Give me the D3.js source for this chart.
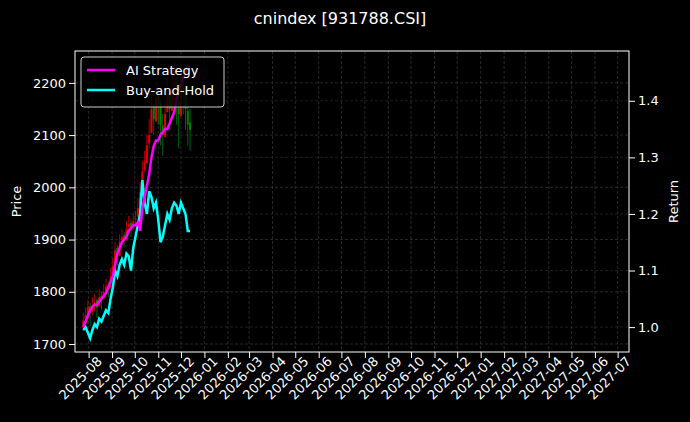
<!DOCTYPE html>
<html><head><meta charset="utf-8">
<script src="https://cdn.jsdelivr.net/npm/d3@7"></script>
<style>body{margin:0;background:#000}text{font-family:"DejaVu Sans";fill:#fff}</style>
</head><body><svg id="chart"></svg>
<script>
// values, one point every 3 calendar days
var closes = [1745,1755,1770,1760,1775,1780,1770,1790,1785,1800,1810,1805,1830,1850,1880,1870,1895,1905,1900,1920,1930,1925,1935,1940,1960,1990,2030,2050,2080,2100,2150,2130,2170,2160,2120,2100,2140,2180,2150,2190,2200,2170,2140,2200,2180,2150,2120,2110];
var opens  = [1735,1748,1758,1772,1762,1778,1784,1772,1792,1788,1802,1812,1808,1832,1852,1884,1868,1898,1908,1898,1924,1932,1922,1938,1944,1964,1994,2034,2046,2084,2104,2154,2126,2174,2164,2118,2096,2144,2184,2146,2194,2204,2166,2136,2204,2176,2146,2124];
var highs  = [1760,1770,1785,1778,1790,1795,1788,1805,1800,1815,1825,1820,1845,1865,1895,1890,1910,1920,1915,1935,1945,1940,1950,1955,1980,2010,2050,2070,2100,2130,2180,2160,2200,2190,2170,2140,2170,2210,2190,2220,2240,2210,2180,2230,2210,2190,2160,2150];
var lows   = [1725,1738,1748,1735,1755,1762,1750,1770,1765,1785,1795,1790,1812,1835,1862,1850,1878,1890,1885,1905,1912,1905,1918,1925,1940,1970,2010,2030,2055,2075,2120,2100,2140,2120,2080,2060,2110,2150,2110,2150,2160,2120,2075,2160,2140,2110,2080,2070];
var strategy = [1.00,1.01,1.02,1.03,1.035,1.04,1.04,1.045,1.05,1.055,1.06,1.07,1.08,1.09,1.11,1.13,1.14,1.15,1.155,1.16,1.17,1.175,1.18,1.18,1.185,1.17,1.21,1.23,1.25,1.27,1.30,1.32,1.33,1.33,1.34,1.345,1.35,1.35,1.36,1.37,1.38,1.40,1.42,1.43,1.44,1.45,1.46,1.46];
var buyhold  = [0.995,1.0,0.99,0.98,0.995,1.005,1.0,1.015,1.01,1.02,1.03,1.025,1.05,1.07,1.10,1.09,1.11,1.12,1.11,1.13,1.125,1.10,1.14,1.16,1.18,1.20,1.26,1.22,1.20,1.24,1.23,1.21,1.22,1.19,1.15,1.16,1.18,1.20,1.19,1.21,1.22,1.215,1.20,1.22,1.21,1.20,1.17,1.17];
var priceTicks = [1700,1800,1900,2000,2100,2200];
var returnTicks = [1.0,1.1,1.2,1.3,1.4];
var title = "cnindex [931788.CSI]";

var W = 690, H = 422;
var margin = {top: 51, right: 61, bottom: 70, left: 75},
    width = W - margin.left - margin.right,
    height = H - margin.top - margin.bottom;

var dates = closes.map(function(d, i){ return d3.timeDay.offset(new Date(2025, 6, 25), i * 3); });

var x = d3.scaleTime().domain([new Date(2025, 6, 14), new Date(2027, 6, 16)]).range([0, width]);
var y = d3.scaleLinear().domain([1684.7, 2261]).range([height, 0]);
var y2 = d3.scaleLinear().domain([0.956, 1.488]).range([height, 0]);

var svg = d3.select("#chart").attr("width", W).attr("height", H);
svg.append("rect").attr("width", W).attr("height", H).attr("fill", "#000");
svg.append("text").attr("x", W/2 - 5).attr("y", 24).attr("text-anchor", "middle")
   .style("font-size", "16px").text(title);

var g = svg.append("g").attr("transform", "translate(" + margin.left + "," + margin.top + ")");

var months = d3.timeMonth.range(new Date(2025, 7, 1), new Date(2027, 6, 2));

// grid
g.selectAll(".gx").data(months).enter().append("line")
  .attr("x1", function(d){ return x(d); }).attr("x2", function(d){ return x(d); })
  .attr("y1", 0).attr("y2", height)
  .attr("stroke", "#444").attr("stroke-width", 0.6).attr("stroke-dasharray", "3,2");
g.selectAll(".gy").data(priceTicks).enter().append("line")
  .attr("x1", 0).attr("x2", width)
  .attr("y1", function(d){ return y(d); }).attr("y2", function(d){ return y(d); })
  .attr("stroke", "#444").attr("stroke-width", 0.6).attr("stroke-dasharray", "3,2");
g.selectAll(".gy2").data(returnTicks).enter().append("line")
  .attr("x1", 0).attr("x2", width)
  .attr("y1", function(d){ return y2(d); }).attr("y2", function(d){ return y2(d); })
  .attr("stroke", "#333").attr("stroke-width", 0.6).attr("stroke-dasharray", "3,2");

// candles
var candles = g.selectAll(".c").data(dates).enter().append("g");
candles.append("line")
  .attr("x1", function(d){ return x(d); }).attr("x2", function(d){ return x(d); })
  .attr("y1", function(d, i){ return y(highs[i]); }).attr("y2", function(d, i){ return y(lows[i]); })
  .attr("stroke", function(d, i){ return closes[i] >= opens[i] ? "#e00000" : "#008000"; })
  .attr("stroke-width", 0.8);
candles.append("rect")
  .attr("x", function(d){ return x(d) - 1; }).attr("width", 2)
  .attr("y", function(d, i){ return y(Math.max(opens[i], closes[i])); })
  .attr("height", function(d, i){ return Math.max(1, Math.abs(y(opens[i]) - y(closes[i]))); })
  .attr("fill", function(d, i){ return closes[i] >= opens[i] ? "#e00000" : "#008000"; });

// return lines
var line = d3.line().x(function(d, i){ return x(dates[i]); }).y(function(d){ return y2(d); });
g.append("path").datum(buyhold).attr("d", line).attr("fill", "none").attr("stroke", "#00ffff").attr("stroke-width", 2.5);
g.append("path").datum(strategy).attr("d", line).attr("fill", "none").attr("stroke", "#ff00ff").attr("stroke-width", 2.5);

// axes
var xa = g.append("g").attr("transform", "translate(0," + height + ")")
  .call(d3.axisBottom(x).tickValues(months).tickFormat(d3.timeFormat("%Y-%m")).tickSizeOuter(0));
xa.selectAll("text").attr("text-anchor", "end").attr("dx", "0.2em").attr("dy", "0.6em")
  .attr("transform", "rotate(-45)");
var ya = g.append("g").call(d3.axisLeft(y).tickValues(priceTicks).tickFormat(d3.format("d")).tickSizeOuter(0));
var ya2 = g.append("g").attr("transform", "translate(" + width + ",0)")
  .call(d3.axisRight(y2).tickValues(returnTicks).tickFormat(d3.format(".1f")).tickSizeOuter(0));
[xa, ya, ya2].forEach(function(a){
  a.selectAll("text").style("font-size", "13px").attr("fill", "#fff");
  a.selectAll("line").attr("stroke", "#fff");
  a.select(".domain").remove();
});
g.append("rect").attr("width", width).attr("height", height).attr("fill", "none").attr("stroke", "#fff").attr("stroke-width", 1);

svg.append("text").attr("transform", "translate(21," + (margin.top + height/2) + ") rotate(-90)")
  .attr("text-anchor", "middle").style("font-size", "13px").text("Price");
svg.append("text").attr("transform", "translate(678," + (margin.top + height/2) + ") rotate(-90)")
  .attr("text-anchor", "middle").style("font-size", "13px").text("Return");

// legend
var lg = g.append("g").attr("transform", "translate(6,6)");
lg.append("rect").attr("width", 143).attr("height", 50).attr("rx", 3)
  .attr("fill", "#000").attr("fill-opacity", 0.8).attr("stroke", "#ccc");
[["AI Strategy", "#ff00ff"], ["Buy-and-Hold", "#00ffff"]].forEach(function(d, i){
  lg.append("line").attr("x1", 6).attr("x2", 34).attr("y1", 13 + i*20).attr("y2", 13 + i*20)
    .attr("stroke", d[1]).attr("stroke-width", 2.5);
  lg.append("text").attr("x", 45).attr("y", 18 + i*20).style("font-size", "13px").text(d[0]);
});
</script></body></html>
